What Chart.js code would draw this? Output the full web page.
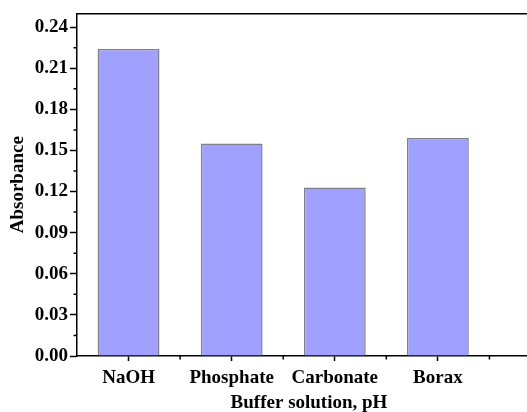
<!DOCTYPE html>
<html>
<head>
<meta charset="utf-8">
<script src="https://cdn.jsdelivr.net/npm/chart.js@4.4.0/dist/chart.umd.min.js"></script>
<style>
html,body{margin:0;padding:0;background:#fff;overflow:hidden;}
#wrap{width:548px;height:420px;}
</style>
</head>
<body>
<div id="wrap"><canvas id="c" width="548" height="420"></canvas></div>
<script>
/* DATA */
const buffers=['NaOH','Phosphate','Carbonate','Borax'];
const absorbance=[0.224,0.155,0.123,0.159];
const yTicks=[0,0.03,0.06,0.09,0.12,0.15,0.18,0.21,0.24];
const yMinor=[0.015,0.045,0.075,0.105,0.135,0.165,0.195,0.225];

const fnt={family:'"Liberation Serif","Times New Roman",serif',weight:'bold',size:19};

/* minor ticks */
const minorTicks={
id:'minorTicks',
afterDraw(ch){
let c=ch.ctx,x=ch.scales.x,y=ch.scales.y;
c.save();
c.strokeStyle='#000';
c.lineWidth=1.5;
c.beginPath();
yMinor.forEach(v=>{
let py=y.getPixelForValue(v);
c.moveTo(y.right-3.5,py);c.lineTo(y.right,py);
});
buffers.forEach((b,i)=>{
let px=x.getPixelForValue(i+1.5);
c.moveTo(px,x.top);c.lineTo(px,x.top+3.5);
});
c.stroke();
c.restore();
}
};

new Chart(document.getElementById('c'),{
type:'bar',
data:{
datasets:[{
data:buffers.map((b,i)=>({x:i+1,y:absorbance[i]})),
backgroundColor:'#a0a0ff',
borderColor:'#80808c',
borderWidth:1.5,
barPercentage:0.6,
categoryPercentage:1
}]
},
options:{
responsive:false,
animation:false,
layout:{padding:{top:13,right:7,left:0,bottom:0}},
plugins:{legend:{display:false},tooltip:{enabled:false}},
scales:{
x:{
type:'linear',
offset:false,
min:0.5,max:5,
afterBuildTicks(s){s.ticks=buffers.map((b,i)=>({value:i+1}));},
grid:{display:true,offset:false,drawOnChartArea:false,tickLength:5,tickWidth:1.5,color:'#000'},
border:{color:'#000',width:1.5},
ticks:{color:'#000',font:fnt,padding:6,maxRotation:0,autoSkip:false,callback:v=>buffers[v-1]},
title:{display:true,text:'Buffer solution, pH',color:'#000',font:fnt,padding:{top:4,bottom:6}},
afterFit(s){s.height=64;}
},
x2:{
position:'top',
grid:{display:false},
border:{color:'#000',width:1.5},
ticks:{display:false},
afterFit(s){s.height=0;}
},
y:{
min:0,max:0.25,
afterBuildTicks(s){s.ticks=yTicks.map(v=>({value:v}));},
grid:{drawOnChartArea:false,tickLength:7,tickWidth:1.5,color:'#000'},
border:{color:'#000',width:1.5},
ticks:{color:'#000',font:fnt,padding:2,callback:v=>v.toFixed(2)},
title:{display:true,text:'Absorbance',color:'#000',font:fnt,padding:{top:7,bottom:2}},
afterFit(s){s.width=77;}
}
}
},
plugins:[minorTicks]
});
</script>
</body>
</html>
